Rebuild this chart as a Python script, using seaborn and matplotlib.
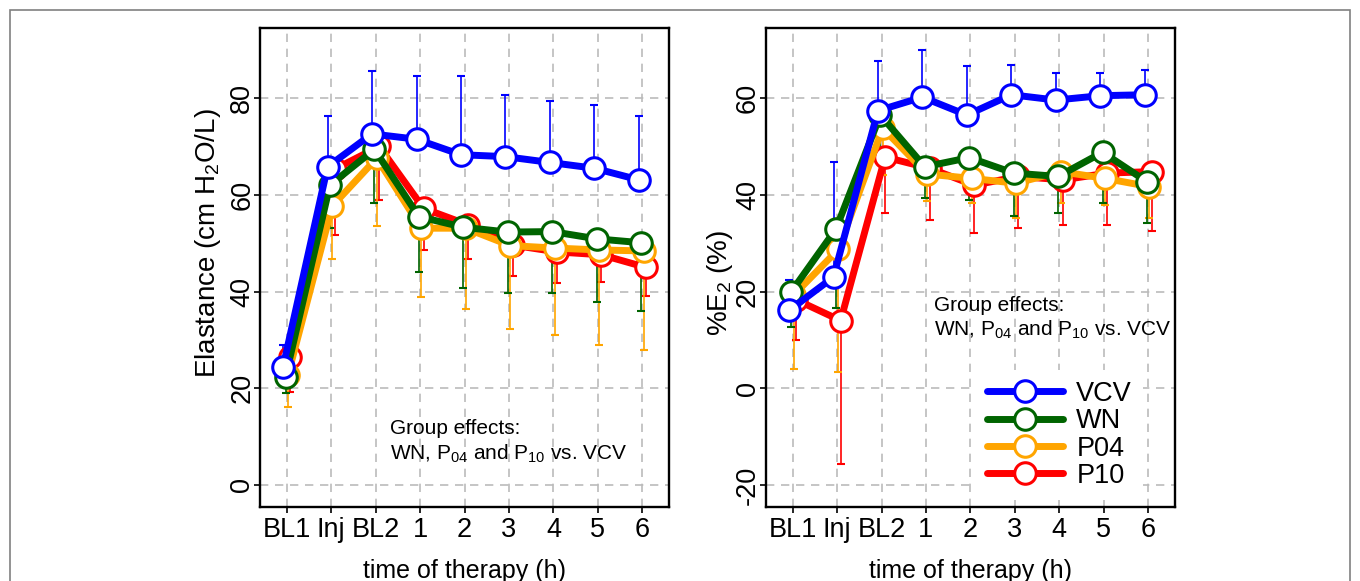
import numpy as np
import matplotlib
matplotlib.use('Agg')
import matplotlib.pyplot as plt
from matplotlib import font_manager
from matplotlib.patches import Rectangle
import seaborn as sns

# time points and groups
times = ['BL1', 'Inj', 'BL2', '1', '2', '3', '4', '5', '6']
groups = ['VCV', 'WN', 'P04', 'P10']
colors = {'VCV': '#0000ff', 'WN': '#006400', 'P04': '#ffa500', 'P10': '#ff0000'}

# Elastance (cm H2O/L), mean and SD
elast_vcv = [24.5, 65.8, 72.6, 71.5, 68.3, 67.9, 66.7, 65.5, 63.1]
elast_vcv_sd = [4.5, 10.6, 13.0, 13.0, 16.3, 12.8, 12.8, 13.0, 13.2]
elast_wn = [22.4, 62.0, 69.4, 55.5, 53.3, 52.3, 52.4, 50.9, 50.1]
elast_wn_sd = [3.3, 8.9, 11.0, 11.4, 12.5, 12.7, 12.8, 13.0, 14.1]
elast_p04 = [22.7, 57.7, 67.6, 53.1, 53.1, 49.5, 49.0, 48.6, 48.4]
elast_p04_sd = [6.6, 11.0, 14.0, 14.2, 16.7, 17.2, 18.0, 19.6, 20.5]
elast_p10 = [26.5, 65.3, 70.0, 57.2, 53.8, 49.6, 48.2, 47.6, 45.0]
elast_p10_sd = [7.3, 13.6, 11.1, 8.6, 7.1, 6.4, 6.5, 5.6, 5.9]

# %E2 (%), mean and SD
e2_vcv = [16.1, 23.0, 57.4, 60.2, 56.5, 60.7, 59.6, 60.5, 60.7]
e2_vcv_sd = [6.3, 23.7, 10.2, 9.8, 10.2, 6.2, 5.5, 4.6, 5.1]
e2_wn = [20.0, 32.9, 56.5, 45.8, 47.7, 44.5, 43.8, 48.8, 42.7]
e2_wn_sd = [7.3, 16.4, 10.0, 6.5, 8.8, 8.9, 7.5, 10.4, 8.6]
e2_p04 = [19.3, 28.7, 53.8, 44.3, 43.4, 42.4, 44.8, 43.4, 41.7]
e2_p04_sd = [15.4, 25.4, 9.7, 5.6, 5.1, 7.2, 6.5, 5.6, 6.4]
e2_p10 = [18.3, 14.0, 47.8, 45.5, 42.0, 43.8, 43.1, 44.5, 44.8]
e2_p10_sd = [8.3, 29.7, 11.6, 10.7, 9.9, 10.7, 9.3, 10.7, 12.2]

elast = {'VCV': (elast_vcv, elast_vcv_sd), 'WN': (elast_wn, elast_wn_sd),
         'P04': (elast_p04, elast_p04_sd), 'P10': (elast_p10, elast_p10_sd)}
e2 = {'VCV': (e2_vcv, e2_vcv_sd), 'WN': (e2_wn, e2_wn_sd),
      'P04': (e2_p04, e2_p04_sd), 'P10': (e2_p10, e2_p10_sd)}

sns.set_theme(style='ticks')
plt.rcParams['font.family'] = ['Liberation Sans', 'DejaVu Sans']
plt.rcParams['mathtext.fontset'] = 'custom'
plt.rcParams['mathtext.rm'] = 'Liberation Sans'
plt.rcParams['mathtext.default'] = 'regular'
plt.rcParams['axes.unicode_minus'] = False
plt.rcParams['text.color'] = 'black'
plt.rcParams['axes.labelcolor'] = 'black'
plt.rcParams['xtick.color'] = 'black'
plt.rcParams['ytick.color'] = 'black'

installed = {f.name for f in font_manager.fontManager.ttflist}
tick_font = 'Liberation Sans Narrow' if 'Liberation Sans Narrow' in installed else 'Liberation Sans'

# small horizontal dodge so the groups don't sit exactly on top of each other
dodge = {'VCV': -0.08, 'WN': -0.027, 'P04': 0.027, 'P10': 0.08}


def draw_panel(ax, data, ylim, yticks, ylabel, label_xy, note_x, note_y):
    x = np.arange(len(times))
    ax.set_axisbelow(True)
    ax.grid(True, color='#bbbbbb', linestyle=(0, (5, 4)), linewidth=1.2)
    for g in reversed(groups):
        mean, sd = np.array(data[g][0]), np.array(data[g][1])
        xs = x + dodge[g]
        zero = np.zeros_like(sd)
        yerr = [zero, sd] if g == 'VCV' else [sd, zero]
        ax.errorbar(xs, mean, yerr=yerr, fmt='none', ecolor=colors[g],
                    elinewidth=1.2, capsize=3, capthick=1.5, zorder=2)
        sns.lineplot(x=xs, y=mean, ax=ax, color=colors[g], linewidth=5,
                     marker='o', markersize=15.5, markerfacecolor='white',
                     markeredgecolor=colors[g], markeredgewidth=2.2,
                     label=g, legend=False, zorder=3)
    ax.set_xlim(-0.6, 8.6)
    ax.set_ylim(*ylim)
    ax.set_xticks(x, times)
    ax.set_yticks(yticks)
    ax.tick_params(direction='out', length=4, width=1.2, labelsize=19.5, pad=3)
    ax.tick_params(axis='y', pad=-0.5)
    for lbl in ax.get_xticklabels() + ax.get_yticklabels():
        lbl.set_fontfamily(tick_font)
    for lbl in ax.get_yticklabels():
        lbl.set_rotation(90)
        lbl.set_va('center')
    for sp in ax.spines.values():
        sp.set_linewidth(1.7)
        sp.set_color('black')
    ax.set_xlabel('time of therapy (h)', fontsize=18, labelpad=12)
    ax.set_ylabel(ylabel, fontsize=20)
    ax.yaxis.set_label_coords(*label_xy)
    ax.text(note_x, note_y[0], 'Group effects:', fontsize=15, va='baseline')
    ax.text(note_x, note_y[1], 'WN, P$_{04}$ and P$_{10}$ vs. VCV', fontsize=15, va='baseline')


fig = plt.figure(figsize=(13.6, 5.81), dpi=100)
ax1 = fig.add_axes([0.1912, 0.1274, 0.3007, 0.8244])
ax2 = fig.add_axes([0.5632, 0.1274, 0.3007, 0.8244])

draw_panel(ax1, elast, (-4.55, 94.5), [0, 20, 40, 60, 80],
           'Elastance (cm H$_2$O/L)', (-0.09, 0.551), 2.32, (10.5, 5.2))
draw_panel(ax2, e2, (-24.55, 74.5), [-20, 0, 20, 40, 60],
           '%E$_2$ (%)', (-0.076, 0.468), 3.17, (16.0, 10.9))

handles, labels = ax2.get_legend_handles_labels()
order = [labels.index(g) for g in groups]
leg = ax2.legend([handles[i] for i in order], groups, loc='upper left',
                 bbox_to_anchor=(0.514, 0.286), borderaxespad=0, fontsize=19.5,
                 handlelength=2.8, handletextpad=0.5, labelspacing=0.05,
                 borderpad=0.4, frameon=True, framealpha=1, fancybox=False)
leg.get_frame().set_edgecolor('white')
leg.get_frame().set_linewidth(0)

fig.add_artist(Rectangle((0.007, -0.02), 0.986, 1.0028, transform=fig.transFigure,
                         fill=False, edgecolor='#808080', linewidth=1.2))

fig.savefig('out.png', dpi=100)
